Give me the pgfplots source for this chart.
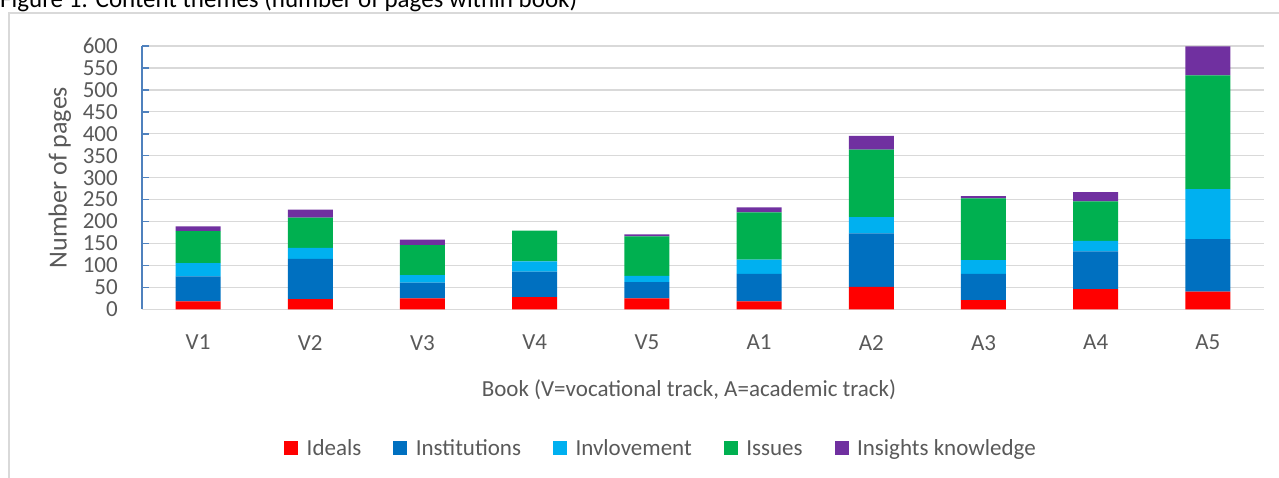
\documentclass[border=0pt]{standalone}
\usepackage{pgfplots}
\pgfplotsset{compat=1.18}
\usepackage{pgfplotstable}
\usepackage{fontspec}
\setmainfont{Carlito}
\definecolor{cIdeals}{HTML}{FF0000}
\definecolor{cInst}{HTML}{0070C0}
\definecolor{cInv}{HTML}{00B0F0}
\definecolor{cIssues}{HTML}{00B050}
\definecolor{cIns}{HTML}{7030A0}
\definecolor{gridgray}{HTML}{D9D9D9}
\definecolor{labgray}{HTML}{595959}
\definecolor{axblue}{RGB}{79,129,189}
\pgfplotstableread{
cat Ideals Institutions Involvement Issues Insights
V1 18 57 30 73 11
V2 23 92 25 69 18
V3 25 36 17 68 13
V4 28 58 23 70 0
V5 25 37 14 90 5
A1 18 63 32 108 11
A2 51 122 37 154 31
A3 21 60 31 141 5
A4 46 86 24 90 21
A5 40 120 114 259 66
}\data
\begin{document}
\begin{tikzpicture}[x=1pt,y=1pt]
\useasboundingbox (0pt,0pt) rectangle (1279pt,478pt);
\draw[gridgray, line width=1.3pt] (9pt,-20pt) -- (9pt,465pt) -- (1300pt,465pt);
\node[anchor=base west, inner sep=0pt, font=\fontsize{25}{30}\selectfont] at (0pt,470pt) {Figure 1: Content themes (number of pages within book)};
\begin{axis}[
  at={(142pt,168.7pt)}, anchor=south west,
  scale only axis, width=1122pt, height=263.3pt,
  ybar stacked, bar width=45pt,
  xmin=-0.5, xmax=9.5, ymin=0, ymax=600,
  enlargelimits=false,
  axis y line=left, axis x line=bottom,
  y axis line style={-, draw=axblue, line width=1.5pt},
  x axis line style={-, draw=gridgray, line width=1.3pt},
  ytick={0,50,...,600},
  xtick={0,...,9}, xticklabels={V1,V2,V3,V4,V5,A1,A2,A3,A4,A5},
  xtick style={draw=none},
  ytick style={draw=axblue, line width=1.5pt},
  tick align=inside, major tick length=7pt,
  ymajorgrids, grid style={gridgray, line width=1.3pt},
  /pgf/number format/assume math mode=true,
  ticklabel style={font=\fontsize{23}{28}\selectfont, text=labgray, inner sep=0pt},
  yticklabel style={xshift=-24pt},
  xticklabel style={yshift=-25.7pt},
  xlabel={Book (V=vocational track, A=academic track)},
  xlabel style={at={(axis description cs:0.4875,-0.3319)}, anchor=base, font=\fontsize{23}{28}\selectfont, text=labgray, inner sep=0pt},
  ylabel={Number of pages},
  ylabel style={at={(axis description cs:-0.06711,0.5)}, anchor=base, font=\fontsize{26}{31}\selectfont, text=labgray, inner sep=0pt},
  every axis plot/.append style={draw=none},
  legend columns=5, legend cell align=left,
  legend style={at={(axis description cs:0.1239,-0.5268)}, anchor=west, draw=none, fill=none,
    font=\fontsize{23}{28}\selectfont, text=labgray, cells={anchor=base west},
    /tikz/every odd column/.append style={column sep=6.5pt},
    /tikz/every even column/.append style={column sep=30pt}},
  legend image code/.code={\fill[#1] (0pt,0pt) rectangle (14pt,14pt);},
]
\addplot[fill=cIdeals] table[x expr=\coordindex, y=Ideals] {\data};
\addplot[fill=cInst] table[x expr=\coordindex, y=Institutions] {\data};
\addplot[fill=cInv] table[x expr=\coordindex, y=Involvement] {\data};
\addplot[fill=cIssues] table[x expr=\coordindex, y=Issues] {\data};
\addplot[fill=cIns] table[x expr=\coordindex, y=Insights] {\data};
\legend{Ideals, Institutions, Invlovement, Issues, Insights knowledge}
\end{axis}
\end{tikzpicture}
\end{document}
